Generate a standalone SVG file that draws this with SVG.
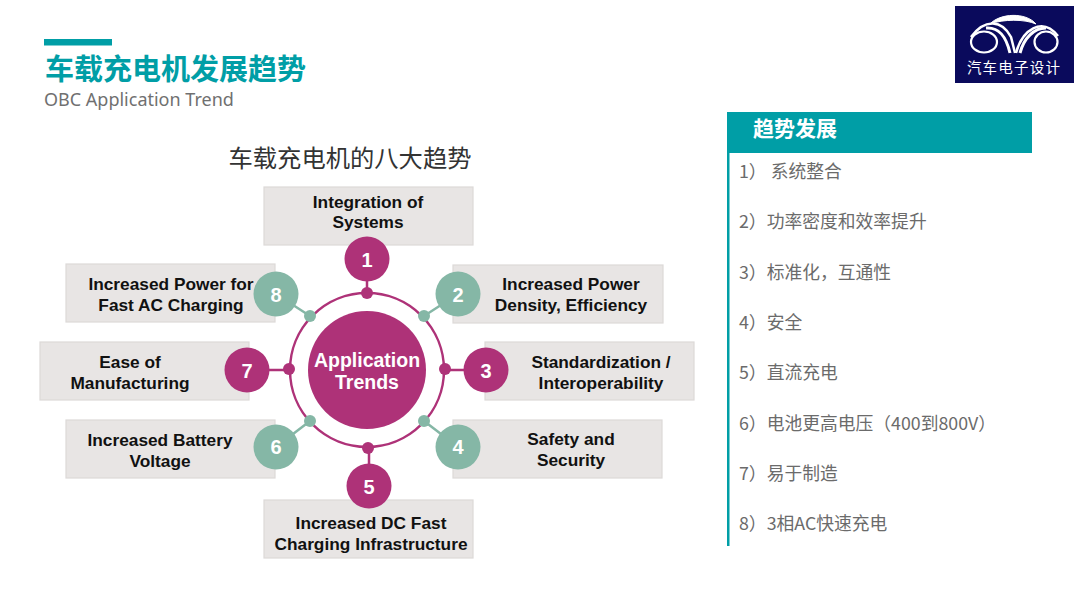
<svg xmlns="http://www.w3.org/2000/svg" width="1080" height="608" viewBox="0 0 1080 608">
<style>
.cjk{font-family:"Noto Sans CJK SC","Noto Sans",sans-serif}
.box{fill:#e8e5e4;stroke:#dcd9d8;stroke-width:1.2}
.lb{font-family:"Liberation Sans",Arial,sans-serif;font-weight:700;font-size:17.300px;fill:#111;text-anchor:middle}
.num{font-family:"Liberation Sans",Arial,sans-serif;font-weight:700;font-size:20px;fill:#fff;text-anchor:middle}
.m{fill:#ae3278}.g{fill:#85b7a6}
.ml{stroke:#ae3278;stroke-width:2.500;fill:none}.gl{stroke:#85b7a6;stroke-width:2.500;fill:none}
.item{font-family:"Noto Sans CJK SC","Noto Sans",sans-serif;font-size:17.800px;fill:#6b6b6b}
</style>
<rect width="1080" height="608" fill="#fff"/>
<g id="title">
<rect x="44" y="39" width="68" height="6.500" fill="#009ea6"/>
<text x="45" y="80" class="cjk" font-size="29" font-weight="700" fill="#009ea6">车载充电机发展趋势</text>
<text x="44" y="106" font-family="Noto Sans,sans-serif" font-size="18" fill="#707070">OBC Application Trend</text>
</g>
<g id="logo">
<rect x="955" y="6" width="119" height="77" fill="#0a0a5c"/>
<g fill="none" stroke="#fff">
<ellipse cx="984" cy="42" rx="13" ry="10.500" stroke-width="2.200"/>
<ellipse cx="1046" cy="42" rx="11.500" ry="10.500" stroke-width="2.200"/>
<path d="M971 37C985 18 1002 20 1011 37L1015 53" stroke-width="2.500"/>
<path d="M986 28C999 27 1006 36 1010 53" stroke-width="3"/>
<path d="M1020 53C1024 38 1034 28 1046 28" stroke-width="3"/>
<path d="M1016 53C1022 30 1042 16 1058 36" stroke-width="2.500"/>
<path d="M990 24C1000 13 1026 12 1036 24C1025 19 1003 19 990 24Z" fill="#fff" stroke-width="1"/>
</g>
<text x="1014" y="73" class="cjk" font-size="14.500" fill="#fff" text-anchor="middle" letter-spacing="1.200">汽车电子设计</text>
</g>
<text x="350" y="167" class="cjk" font-size="24.300" fill="#333" text-anchor="middle">车载充电机的八大趋势</text>
<g id="connectors">
<circle cx="367" cy="370" r="77" class="ml"/>
<path class="ml" d="M367 259V293M486 370H445M369 486V448M247 370H289"/>
<path class="gl" d="M458 294L424 316M458 447L424 421M276 447L310 421M276 294L310 316"/>
<circle cx="367" cy="293" r="6" class="m"/>
<circle cx="445" cy="369" r="6" class="m"/>
<circle cx="368" cy="448" r="6" class="m"/>
<circle cx="289" cy="369" r="6" class="m"/>
<circle cx="424" cy="316" r="6" class="g"/>
<circle cx="424" cy="421" r="6" class="g"/>
<circle cx="310" cy="421" r="6" class="g"/>
<circle cx="310" cy="316" r="6" class="g"/>
</g>
<g id="center">
<circle cx="367" cy="370" r="59" class="m"/>
<text x="367" y="367" font-family="Liberation Sans,Arial,sans-serif" font-weight="700" font-size="19.500" fill="#fff" text-anchor="middle">Application</text>
<text x="367" y="389" font-family="Liberation Sans,Arial,sans-serif" font-weight="700" font-size="19.500" fill="#fff" text-anchor="middle">Trends</text>
</g>
<g id="node1"><rect x="264" y="187" width="209" height="58" class="box"/><text x="368" y="208" class="lb">Integration of</text><text x="368" y="228" class="lb">Systems</text><circle cx="367" cy="259" r="22.500" class="m"/><text x="367" y="267" class="num">1</text></g>
<g id="node2"><rect x="453" y="265" width="210" height="58" class="box"/><text x="571" y="290" class="lb">Increased Power</text><text x="571" y="311" class="lb">Density, Efficiency</text><circle cx="458" cy="294" r="22.500" class="g"/><text x="458" y="302" class="num">2</text></g>
<g id="node3"><rect x="485" y="342" width="209" height="58" class="box"/><text x="601" y="368" class="lb">Standardization /</text><text x="601" y="389" class="lb">Interoperability</text><circle cx="486" cy="370" r="22.500" class="m"/><text x="486" y="378" class="num">3</text></g>
<g id="node4"><rect x="453" y="420" width="209" height="58" class="box"/><text x="571" y="445" class="lb">Safety and</text><text x="571" y="466" class="lb">Security</text><circle cx="458" cy="447" r="22.500" class="g"/><text x="458" y="454" class="num">4</text></g>
<g id="node5"><rect x="264" y="500" width="209" height="58" class="box"/><text x="371" y="529" class="lb">Increased DC Fast</text><text x="371" y="550" class="lb">Charging Infrastructure</text><circle cx="369" cy="486" r="22.500" class="m"/><text x="369" y="494" class="num">5</text></g>
<g id="node6"><rect x="66" y="420" width="209" height="58" class="box"/><text x="160" y="446" class="lb">Increased Battery</text><text x="160" y="467" class="lb">Voltage</text><circle cx="276" cy="447" r="22.500" class="g"/><text x="276" y="454" class="num">6</text></g>
<g id="node7"><rect x="40" y="342" width="209" height="58" class="box"/><text x="130" y="368" class="lb">Ease of</text><text x="130" y="389" class="lb">Manufacturing</text><circle cx="247" cy="370" r="22.500" class="m"/><text x="247" y="378" class="num">7</text></g>
<g id="node8"><rect x="66" y="264" width="209" height="58" class="box"/><text x="171" y="290" class="lb">Increased Power for</text><text x="171" y="311" class="lb">Fast AC Charging</text><circle cx="276" cy="294" r="22.500" class="g"/><text x="276" y="302" class="num">8</text></g>
<g id="panel">
<rect x="727" y="153" width="2.500" height="393" fill="#009ea6"/>
<rect x="727" y="112" width="305" height="41" fill="#009ea6"/>
<text x="753" y="136" class="cjk" font-size="21" font-weight="700" fill="#fff">趋势发展</text>
<text x="739" y="178" class="item">1） 系统整合</text>
<text x="739" y="228" class="item">2）功率密度和效率提升</text>
<text x="739" y="279" class="item">3）标准化，互通性</text>
<text x="739" y="329" class="item">4）安全</text>
<text x="739" y="379" class="item">5）直流充电</text>
<text x="739" y="430" class="item">6）电池更高电压（400到800V）</text>
<text x="739" y="480" class="item">7）易于制造</text>
<text x="739" y="530" class="item">8）3相AC快速充电</text>
</g>
</svg>
